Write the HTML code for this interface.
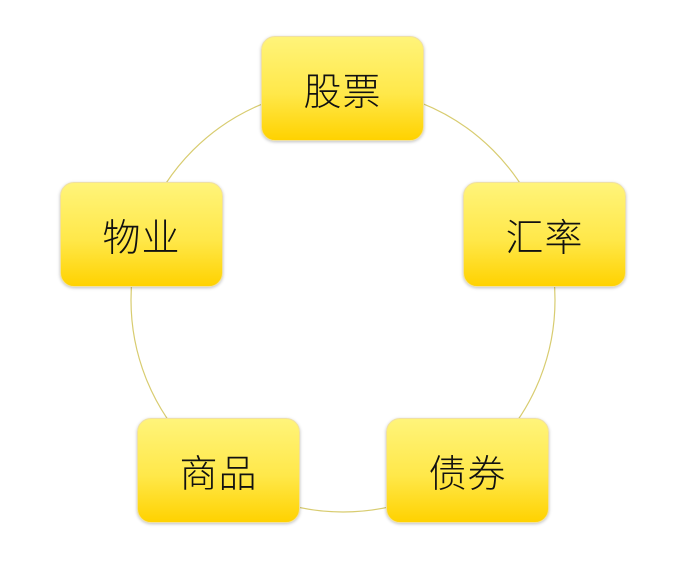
<!DOCTYPE html>
<html><head><meta charset="utf-8"><style>
body{margin:0;width:697px;height:563px;background:#fff;position:relative;overflow:hidden;font-family:"Liberation Sans","Noto Sans CJK SC",sans-serif}
.b{position:absolute;width:163px;height:105px;border-radius:14px;background:linear-gradient(#fff47a 0%,#ffe84a 55%,#ffd200 100%);box-shadow:0 1px 3px rgba(0,0,0,.25);border:1px solid #f0e0a0;box-sizing:border-box;display:flex;align-items:center;justify-content:center;font-size:38px;font-weight:300;color:#111;letter-spacing:1px}
</style></head><body>
<svg width="697" height="563" style="position:absolute;left:0;top:0"><circle cx="343" cy="300" r="212" fill="none" stroke="#d8cc70" stroke-width="1.2"/></svg>
<div class="b" style="left:261px;top:36px">股票</div>
<div class="b" style="left:60px;top:182px">物业</div>
<div class="b" style="left:463px;top:182px">汇率</div>
<div class="b" style="left:137px;top:418px">商品</div>
<div class="b" style="left:386px;top:418px">债券</div>
</body></html>
